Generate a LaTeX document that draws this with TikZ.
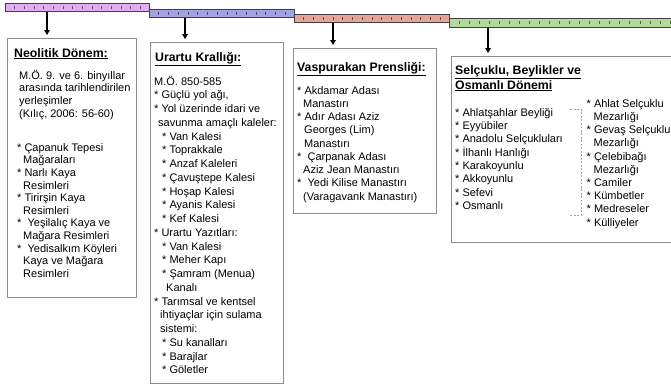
\documentclass[tikz,border=0pt]{standalone}
\usepackage{fontspec}
\setmainfont{Liberation Sans}
\definecolor{EraLilac}{HTML}{E2AEF2}
\definecolor{EraBlue}{HTML}{A2A2E6}
\definecolor{EraSalmon}{HTML}{E6A496}
\definecolor{EraGreen}{HTML}{B2DA9C}
\definecolor{BoxGray}{HTML}{8C8C8C}
\usetikzlibrary{arrows.meta, positioning, calc}
\newcommand{\bul}{*\ }
\newcommand{\fl}{\rule{0pt}{10.5pt}}

\begin{document}
\begin{tikzpicture}[x=1pt, y=-1pt,
  era/.style={rectangle, draw=black!75, line width=0.9pt, anchor=north west,
              inner sep=0, minimum height=8pt},
  panel/.style={rectangle, draw=BoxGray, line width=1.1pt, anchor=north west,
                inner sep=0},
  ttl/.style={font=\fontsize{12.3}{13}\selectfont\bfseries, anchor=base west,
              align=left, inner sep=0},
  txt/.style={font=\fontsize{11}{#1}\selectfont, anchor=north west,
              yshift=10.5pt, align=left, inner sep=0},
  txt/.default=13.2,
  link/.style={-{Triangle[width=5.5pt,length=5pt]}, line width=1.3pt,
               shorten >=3pt},
  tick/.style={line width=0.5pt},
]
\useasboundingbox (0,0) rectangle (671,384);
\clip (0,0) rectangle (671,384);

% time bar
\node[era, fill=EraGreen, minimum width=230pt, minimum height=9pt] (selbar) at (449,18) {};
\node[era, fill=EraSalmon, minimum width=155pt] (vasbar) at (294,14) {};
\node[era, fill=EraBlue, minimum width=145pt] (urabar) at (149,9) {};
\node[era, fill=EraLilac, minimum width=144pt] (neobar) at (5,3) {};
\foreach \bar/\col/\n in {neobar/EraLilac/14, urabar/EraBlue/14,
                          vasbar/EraSalmon/15, selbar/EraGreen/22} {
  \foreach \i in {1,...,\n}
    \draw[tick, draw=\col!45!black] ($(\bar.west)!{\i/(\n+1)}!(\bar.east)$)
      ++(0,-1.5) -- ++(0,3);
}

% panels
\node[panel, minimum width=129pt, minimum height=259pt] (neobox) at (7,38) {};
\node[panel, minimum width=133pt, minimum height=341pt] (urabox) at (150,42) {};
\node[panel, minimum width=143pt, minimum height=165pt] (vasbox) at (293,48) {};
\node[panel, minimum width=230pt, minimum height=186pt] (selbox) at (451,56) {};

% arrows
\coordinate (neoa) at ($(neobar.south west)+(42,0)$);
\coordinate (uraa) at ($(urabar.south west)+(36,0)$);
\coordinate (vasa) at ($(vasbar.south west)+(39,0)$);
\coordinate (sela) at ($(selbar.south west)+(39,0)$);
\draw[link] (neoa) -- (neoa |- neobox.north);
\draw[link] (uraa) -- (uraa |- urabox.north);
\draw[link] (vasa) -- (vasa |- vasbox.north);
\draw[link] (sela) -- (sela |- selbox.north);

% Neolitik
\node[ttl] (neottl) at (14,57) {\underline{Neolitik Dönem:}};
\node[txt=12.65] (neoinfo) at (19,79) {\fl M.Ö. 9. ve 6. binyıllar\\arasında tarihlendirilen\\
  yerleşimler\\(Kılıç, 2006: 56-60)};
\node[txt=12.6] (neolist) at (17,151) {\fl\bul Çapanuk Tepesi\\\hspace*{6pt}Mağaraları\\
  \bul Narlı Kaya\\\hspace*{6pt}Resimleri\\\bul Tirirşin Kaya\\\hspace*{6pt}Resimleri\\
  \bul\ Yeşilalıç Kaya ve\\\hspace*{6pt}Mağara Resimleri\\\bul\ Yedisalkım Köyleri\\
  \hspace*{6pt}Kaya ve Mağara\\\hspace*{6pt}Resimleri};

% Urartu
\node[ttl] (urattl) at (155,61) {\underline{Urartu Krallığı:}};
\node[txt=13.75] (uralist) at (154,85) {\fl M.Ö. 850-585\\\bul Güçlü yol ağı,\\
  \bul Yol üzerinde idari ve\\\hspace*{4pt}savunma amaçlı kaleler:\\
  \hspace*{8pt}\bul Van Kalesi\\\hspace*{8pt}\bul Toprakkale\\
  \hspace*{8pt}\bul Anzaf Kaleleri\\\hspace*{8pt}\bul Çavuştepe Kalesi\\
  \hspace*{8pt}\bul Hoşap Kalesi\\\hspace*{8pt}\bul Ayanis Kalesi\\
  \hspace*{8pt}\bul Kef Kalesi\\\bul Urartu Yazıtları:\\
  \hspace*{8pt}\bul Van Kalesi\\\hspace*{8pt}\bul Meher Kapı\\
  \hspace*{8pt}\bul Şamram (Menua)\\\hspace*{12pt}Kanalı\\
  \bul Tarımsal ve kentsel\\\hspace*{6pt}ihtiyaçlar için sulama\\\hspace*{6pt}sistemi:\\
  \hspace*{8pt}\bul Su kanalları\\\hspace*{8pt}\bul Barajlar\\\hspace*{8pt}\bul Göletler};

% Vaspurakan
\node[ttl] (vasttl) at (297,71) {\underline{Vaspurakan Prensliği:}};
\node[txt=13.25] (vaslist) at (297,94) {\fl\bul Akdamar Adası\\\hspace*{6pt}Manastırı\\
  \bul Adır Adası Aziz\\\hspace*{7pt}Georges (Lim)\\\hspace*{7pt}Manastırı\\
  \bul\ Çarpanak Adası\\\hspace*{6pt}Aziz Jean Manastırı\\
  \bul\ Yedi Kilise Manastırı\\\hspace*{6pt}(Varagavank Manastırı)};

% Selcuklu
\node[ttl] (selttl) at (455,89) {\underline{Selçuklu, Beylikler ve}\\\underline{Osmanlı Dönemi}};
\node[txt=13.3] (selleft) at (455,116) {\fl\bul Ahlatşahlar Beyliği\\\bul Eyyübiler\\
  \bul Anadolu Selçukluları\\\bul İlhanlı Hanlığı\\\bul Karakoyunlu\\\bul Akkoyunlu\\
  \bul Sefevi\\\bul Osmanlı};
\node[txt=13.2] (selright) at (586.5,107) {\fl\bul Ahlat Selçuklu\\\hspace*{7pt}Mezarlığı\\
  \bul Gevaş Selçuklu\\\hspace*{7pt}Mezarlığı\\\bul Çelebibağı\\\hspace*{7pt}Mezarlığı\\
  \bul Camiler\\\bul Kümbetler\\\bul Medreseler\\\bul Külliyeler};
\coordinate (brtop) at (581,109);
\coordinate (brbot) at (581,215);
\draw[BoxGray!80, line width=0.8pt, dash pattern=on 2pt off 1.5pt]
  ([xshift=-11pt]brtop) -- (brtop) -- (brbot) -- ([xshift=-11pt]brbot);
\end{tikzpicture}
\end{document}
